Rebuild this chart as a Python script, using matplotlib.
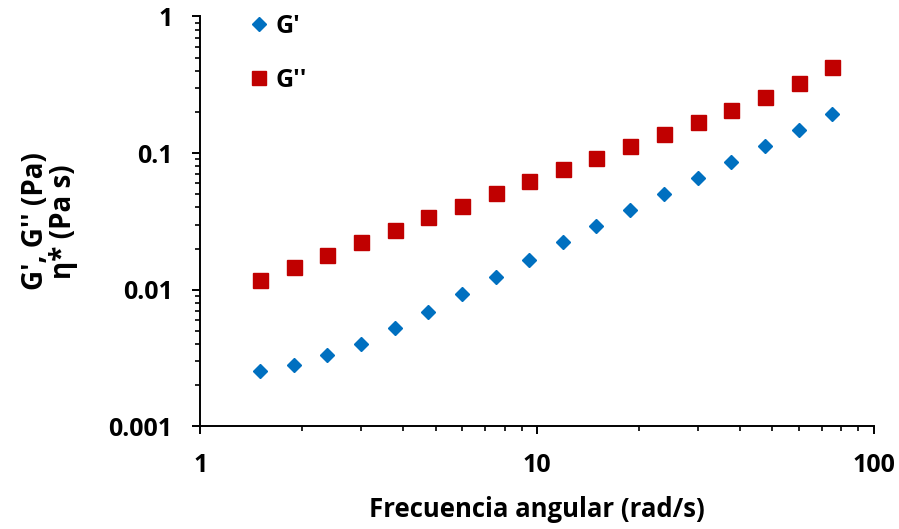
import matplotlib
matplotlib.use("Agg")
import matplotlib.pyplot as plt
from matplotlib.ticker import LogLocator, NullFormatter, FixedLocator, FixedFormatter

plt.rcParams['font.family'] = ['Open Sans', 'DejaVu Sans']
plt.rcParams['font.weight'] = 'bold'

# angular frequency sweep (rad/s)
freq = [1.5, 1.89, 2.38, 3.0, 3.77, 4.75, 5.98, 7.53, 9.48, 11.9,
        15.0, 18.9, 23.8, 30.0, 37.7, 47.5, 59.8, 75.3]
# storage modulus G' (Pa)
g_storage = [0.00253, 0.00280, 0.00331, 0.00400, 0.00522, 0.00684, 0.00927,
             0.0124, 0.0165, 0.0223, 0.0292, 0.0382, 0.0501, 0.0656,
             0.0859, 0.1125, 0.147, 0.193]
# loss modulus G'' (Pa)
g_loss = [0.0117, 0.0146, 0.0179, 0.0223, 0.0273, 0.0340, 0.0409, 0.0509,
          0.0623, 0.0763, 0.0919, 0.1125, 0.1377, 0.1687, 0.2065, 0.257,
          0.326, 0.427]

x_ticks = [1, 10, 100]
x_labels = ['1', '10', '100']
y_ticks = [0.001, 0.01, 0.1, 1]
y_labels = ['0.001', '0.01', '0.1', '1']

fig = plt.figure(figsize=(8.99, 5.29), dpi=100)
ax = fig.add_axes([0.223, 0.194, 0.749, 0.775])

ax.plot(freq, g_storage, linestyle='none', marker='D', markersize=7.6,
        color='#0070C0', label="G'")
ax.plot(freq, g_loss, linestyle='none', marker='s', markersize=10.8,
        color='#C00000', label="G''")

ax.set_xscale('log')
ax.set_yscale('log')
ax.set_xlim(1, 100)
ax.set_ylim(0.001, 1)

ax.xaxis.set_major_locator(FixedLocator(x_ticks))
ax.xaxis.set_major_formatter(FixedFormatter(x_labels))
ax.yaxis.set_major_locator(FixedLocator(y_ticks))
ax.yaxis.set_major_formatter(FixedFormatter(y_labels))
ax.xaxis.set_minor_locator(LogLocator(base=10, subs=range(2, 10)))
ax.yaxis.set_minor_locator(LogLocator(base=10, subs=range(2, 10)))
ax.xaxis.set_minor_formatter(NullFormatter())
ax.yaxis.set_minor_formatter(NullFormatter())

for side in ['top', 'right']:
    ax.spines[side].set_visible(False)
for side in ['left', 'bottom']:
    ax.spines[side].set_linewidth(1.4)
    ax.spines[side].set_color('black')

ax.tick_params(which='major', direction='out', length=6, width=1.4,
               labelsize=18, colors='black')
ax.tick_params(which='minor', direction='out', length=3.5, width=1.2)
ax.tick_params(axis='x', which='major', pad=13)
ax.tick_params(axis='y', which='major', pad=14)

ax.set_xlabel('Frecuencia angular (rad/s)', fontsize=18.5, fontweight='bold',
              labelpad=13)
ax.set_ylabel("G', G'' (Pa)\nη* (Pa s)", fontsize=20, fontweight='bold',
              labelpad=22, linespacing=0.95)

leg = ax.legend(loc='upper left', bbox_to_anchor=(0.05, 1.03), frameon=False,
                fontsize=18, labelspacing=1.15, handletextpad=0.05,
                handlelength=1.2, borderaxespad=0, markerscale=0.95)

fig.savefig('out.png', dpi=100)
